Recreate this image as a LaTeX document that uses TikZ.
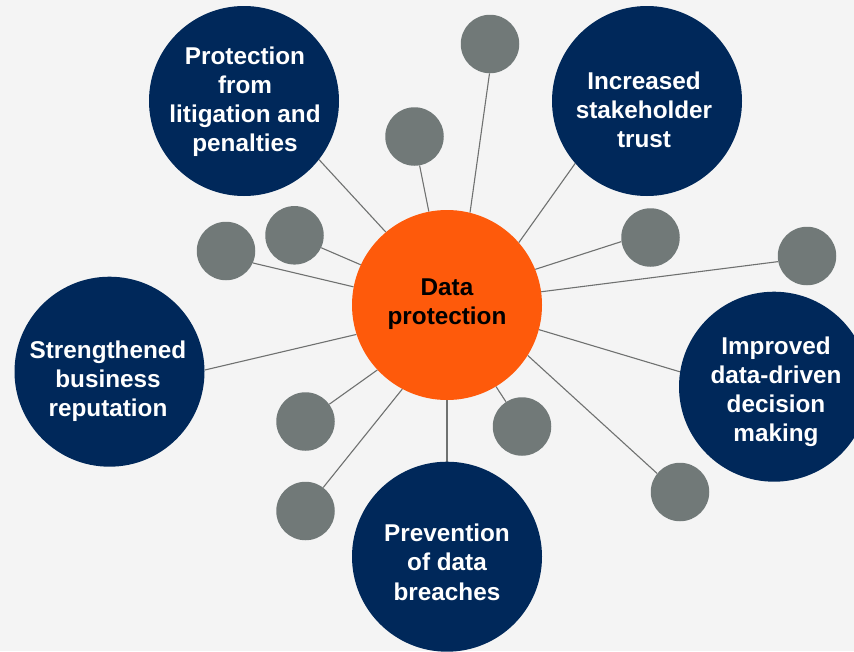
\documentclass[tikz,border=0pt]{standalone}
\usepackage{fontspec}
\setmainfont{Liberation Sans}
\usetikzlibrary{backgrounds}

\definecolor{navy}{HTML}{00285A}
\definecolor{flame}{HTML}{FE5A0B}
\definecolor{slate}{HTML}{717978}
\definecolor{paper}{HTML}{F4F4F4}
\definecolor{wire}{HTML}{6F7170}

\begin{document}
\begin{tikzpicture}[x=1pt,y=-1pt,
  hub/.style={circle,fill=flame,minimum size=190pt,inner sep=0pt},
  goal/.style={circle,fill=navy,minimum size=190pt,inner sep=0pt},
  dot/.style={circle,fill=slate,minimum size=58.5pt,inner sep=0pt},
  caption/.style={font=\fontsize{24.3}{29.2}\selectfont\bfseries,align=center,
                  anchor=base,text=white,inner sep=0pt},
  link/.style={draw=wire,line width=1.1pt}]

\useasboundingbox (0,0) rectangle (854,651);
\clip (0,0) rectangle (854,651);

% central hub
\node[hub] (hub) at (447,305) {};

% outcome circles
\node[goal] (litig)  at (244,101) {};
\node[goal] (trust)  at (647,101) {};
\node[goal] (repu)   at (109.5,371.7) {};
\node[goal] (decis)  at (774,386.7) {};
\node[goal] (breach) at (447,556.7) {};

% small grey satellites
\node[dot] (d1)  at (490,44) {};
\node[dot] (d2)  at (414.5,136.5) {};
\node[dot] (d3)  at (294.5,235.3) {};
\node[dot] (d4)  at (226,251) {};
\node[dot] (d5)  at (650.5,237.5) {};
\node[dot] (d6)  at (807,256) {};
\node[dot] (d7)  at (305.5,421.5) {};
\node[dot] (d8)  at (305.5,511) {};
\node[dot] (d9)  at (522,426.5) {};
\node[dot] (d10) at (680,492) {};

% labels (anchored on the baseline of their last line)
\node[caption] (litig-t)  at (245,151.9) {Protection\\from\\litigation and\\penalties};
\node[caption] (trust-t)  at (644,147.7) {Increased\\stakeholder\\trust};
\node[caption] (repu-t)   at (108,416.7) {Strengthened\\business\\reputation};
\node[caption] (decis-t)  at (776,441.6) {Improved\\data-driven\\decision\\making};
\node[caption] (breach-t) at (447,600.1) {Prevention\\of data\\breaches};
\node[caption,text=black] (hub-t) at (447,324.2) {Data\\protection};

% backdrop and spokes beneath the circles
\begin{scope}[on background layer]
  \fill[paper] (0,0) rectangle (854,651);
  \draw[link] (hub.130.7) -- (litig.-38);
  \draw[link] (hub.101.1) -- (d2.-80.8);
  \draw[link] (hub.76.9)  -- (d1.-91);
  \draw[link] (hub.41.3)  -- (trust.-139.8);
  \draw[link] (hub.22.6)  -- (d5.188.2);
  \draw[link] (hub.8.4)   -- (d6.191.2);
  \draw[link] (hub.155.3) -- (d3.-25.5);
  \draw[link] (hub.169.3) -- (d4.-24.3);
  \draw[link] (hub.198.8) -- (repu.1);
  \draw[link] (hub.223.5) -- (d7.36.6);
  \draw[link] (hub.242.7) -- (d8.53.8);
  \draw[link] (hub.-90)   -- (breach.90);
  \draw[link] (hub.-15.4) -- (decis.171);
  \draw[link] (hub.-59.2) -- (d9.123.3);
  \draw[link] (hub.-32.2) -- (d10.141.3);
\end{scope}
\end{tikzpicture}
\end{document}
